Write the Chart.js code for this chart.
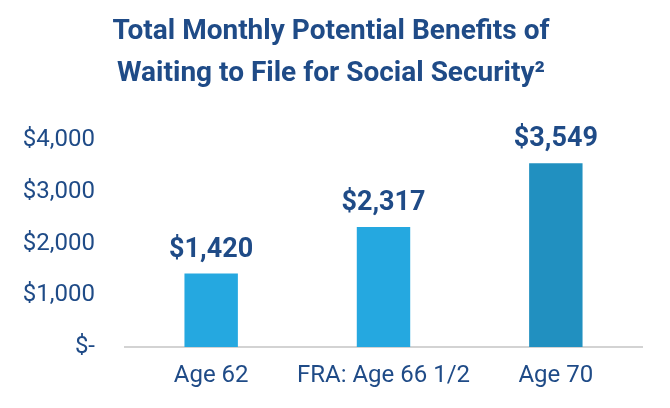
<!DOCTYPE html>
<html>
<head>
<meta charset="utf-8">
<script src="https://cdn.jsdelivr.net/npm/chart.js@4"></script>
<style>
html,body{margin:0;padding:0;background:#fff;}
#wrap{width:670px;height:408px;}
</style>
</head>
<body>
<div id="wrap"><canvas id="c"></canvas></div>
<script>
const categories = ["Age 62", "FRA: Age 66 1/2", "Age 70"];
const benefits = [1420, 2317, 3549];
const yTicks = [0, 1000, 2000, 3000, 4000];
const titleLines = ["Total Monthly Potential Benefits of", "Waiting to File for Social Security\u00B2"];

const navy = "#1f4b87";

function fmt(v){ return v === 0 ? "$-" : "$" + v.toLocaleString("en-US"); }

const labelPlugin = {
  id: "valueLabels",
  afterDatasetsDraw(chart){
    const ctx = chart.ctx;
    const meta = chart.getDatasetMeta(0);
    ctx.save();
    ctx.font = "bold 27px Roboto";
    ctx.fillStyle = navy;
    ctx.textAlign = "center";
    ctx.textBaseline = "alphabetic";
    meta.data.forEach((bar, i) => {
      ctx.fillText(fmt(benefits[i]), bar.x, bar.y - 17);
    });
    ctx.restore();
  }
};

new Chart(document.getElementById("c"), {
  type: "bar",
  data: {
    labels: categories,
    datasets: [{
      data: benefits,
      backgroundColor(context){
        const chart = context.chart;
        if (context.dataIndex === 2) {
          const el = chart.getDatasetMeta(0).data[2];
          if (el && el.width) {
            const g = chart.ctx.createLinearGradient(el.x - el.width/2, 0, el.x + el.width/2, 0);
            g.addColorStop(0, "#2596c8");
            g.addColorStop(1, "#1c7aa6");
            return g;
          }
          return "#2190c0";
        }
        return "#25a8e0";
      },
      barPercentage: 0.62,
      categoryPercentage: 0.5
    }]
  },
  options: {
    responsive: true,
    maintainAspectRatio: false,
    animation: false,
    layout: { padding: { left: 20, right: 28, top: 0, bottom: 16 } },
    plugins: {
      legend: { display: false },
      tooltip: { enabled: false },
      title: {
        display: true,
        text: titleLines,
        color: navy,
        font: { family: "Roboto", size: 28, weight: "bold", lineHeight: 1.5 },
        padding: { top: 11, bottom: 45 }
      }
    },
    scales: {
      x: {
        afterFit(axis){ axis.height = 45; axis.paddingLeft = 0; axis.paddingRight = 0; },
        grid: { display: false, drawTicks: false },
        border: { display: true, color: "#d3d3d3", width: 2 },
        ticks: { color: navy, font: { family: "Roboto", size: 24 }, padding: 15,
                 minRotation: 0, maxRotation: 0, autoSkip: false }
      },
      y: {
        min: 0, max: 4000,
        afterFit(axis){ axis.width = 105; },
        afterBuildTicks(axis){ axis.ticks = yTicks.map(v => ({ value: v })); },
        grid: { display: false, drawTicks: false },
        border: { display: false },
        ticks: { color: navy, font: { family: "Roboto", size: 24 }, padding: 30, callback: v => fmt(v) }
      }
    }
  },
  plugins: [labelPlugin]
});
</script>
</body>
</html>
